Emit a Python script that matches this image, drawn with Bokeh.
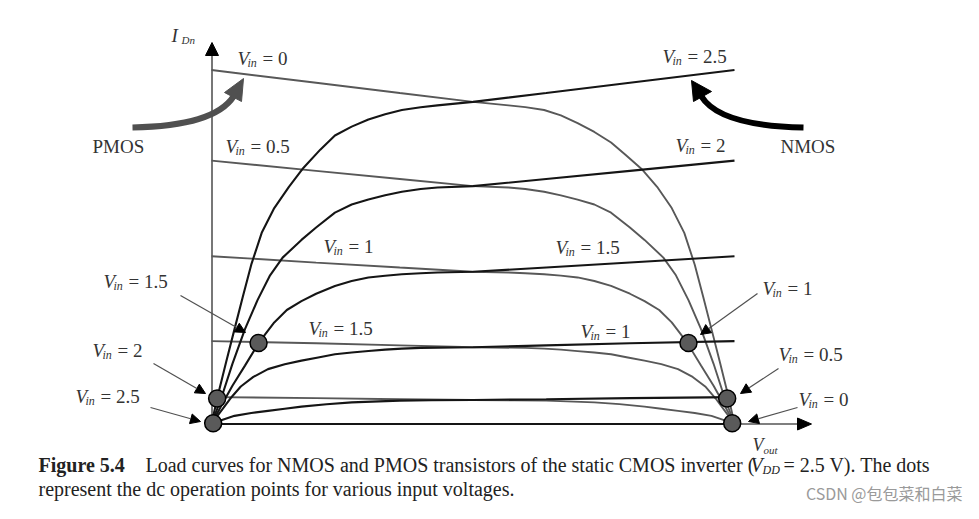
from bokeh.plotting import figure
from bokeh.models import Range1d, Arrow, NormalHead, ColumnDataSource
from bokeh.core.properties import value
from bokeh.embed import file_html
from bokeh.resources import INLINE

# ---------------- data ----------------
# Vout in volts, drain current normalised to I(Vin=2.5, Vout=2.5) = 1
vin_levels = [2.5, 2.0, 1.5, 1.0, 0.5, 0.0]

# NMOS load curves (black)
n25_v = [0, 0.03, 0.07, 0.11, 0.15, 0.19, 0.24, 0.30, 0.37, 0.44, 0.52, 0.59, 0.67, 0.75, 0.83, 0.91, 1.0, 1.08, 1.25, 1.6, 2.0, 2.5]
n25_i = [0, 0.08, 0.175, 0.268, 0.36, 0.45, 0.54, 0.61, 0.67, 0.724, 0.775, 0.815, 0.84, 0.86, 0.875, 0.887, 0.895, 0.90, 0.91, 0.935, 0.964, 1.0]
n20_v = [0, 0.05, 0.10, 0.16, 0.22, 0.28, 0.34, 0.43, 0.50, 0.59, 0.67, 0.75, 0.83, 0.91, 1.0, 1.08, 1.25, 1.6, 2.0, 2.5]
n20_i = [0, 0.079, 0.17, 0.268, 0.35, 0.42, 0.47, 0.52, 0.555, 0.597, 0.62, 0.634, 0.646, 0.656, 0.664, 0.668, 0.672, 0.692, 0.715, 0.744]
n15_v = [0, 0.05, 0.10, 0.16, 0.229, 0.30, 0.36, 0.43, 0.50, 0.59, 0.67, 0.75, 0.83, 0.91, 1.0, 1.08, 1.25, 1.6, 2.0, 2.5]
n15_i = [0, 0.055, 0.108, 0.165, 0.232, 0.287, 0.322, 0.347, 0.368, 0.39, 0.404, 0.414, 0.419, 0.423, 0.426, 0.428, 0.43, 0.442, 0.456, 0.474]
n10_v = [0, 0.04, 0.09, 0.14, 0.20, 0.27, 0.35, 0.43, 0.51, 0.59, 0.67, 0.75, 0.83, 0.91, 1.0, 1.25, 1.6, 2.0, 2.5]
n10_i = [0, 0.032, 0.072, 0.106, 0.133, 0.155, 0.169, 0.179, 0.188, 0.197, 0.202, 0.206, 0.210, 0.213, 0.215, 0.217, 0.222, 0.228, 0.234]
n05_v = [0, 0.05, 0.11, 0.19, 0.27, 0.35, 0.43, 0.55, 0.67, 0.8, 0.9, 1.05, 1.25, 1.6, 2.0, 2.5]
n05_i = [0, 0.011, 0.023, 0.031, 0.037, 0.043, 0.049, 0.056, 0.061, 0.064, 0.066, 0.067, 0.068, 0.070, 0.073, 0.076]
n00_v = [0, 2.5]
n00_i = [0, 0]

# PMOS load curves (grey)
p00_v = [0, 0.5, 0.9, 1.25, 1.42, 1.5, 1.59, 1.67, 1.75, 1.83, 1.91, 1.98, 2.06, 2.13, 2.20, 2.26, 2.31, 2.35, 2.39, 2.43, 2.47, 2.5]
p00_i = [1.0, 0.964, 0.935, 0.91, 0.90, 0.895, 0.887, 0.872, 0.85, 0.825, 0.795, 0.76, 0.718, 0.67, 0.61, 0.54, 0.45, 0.36, 0.268, 0.175, 0.08, 0]
p05_v = [0, 0.5, 0.9, 1.25, 1.42, 1.5, 1.59, 1.67, 1.75, 1.83, 1.91, 2.0, 2.07, 2.16, 2.22, 2.28, 2.34, 2.40, 2.45, 2.5]
p05_i = [0.744, 0.715, 0.692, 0.672, 0.668, 0.664, 0.656, 0.646, 0.634, 0.62, 0.597, 0.555, 0.52, 0.47, 0.42, 0.35, 0.268, 0.17, 0.079, 0]
p10_v = [0, 0.5, 0.9, 1.25, 1.42, 1.5, 1.59, 1.67, 1.75, 1.83, 1.91, 2.0, 2.07, 2.14, 2.2, 2.271, 2.34, 2.4, 2.45, 2.5]
p10_i = [0.474, 0.456, 0.442, 0.43, 0.428, 0.426, 0.423, 0.419, 0.414, 0.404, 0.39, 0.368, 0.347, 0.322, 0.287, 0.232, 0.165, 0.108, 0.055, 0]
p15_v = [0, 0.5, 0.9, 1.25, 1.5, 1.59, 1.67, 1.75, 1.83, 1.91, 1.99, 2.07, 2.15, 2.23, 2.3, 2.36, 2.41, 2.46, 2.5]
p15_i = [0.234, 0.228, 0.222, 0.217, 0.215, 0.213, 0.210, 0.206, 0.202, 0.197, 0.188, 0.179, 0.169, 0.155, 0.133, 0.106, 0.072, 0.032, 0]
p20_v = [0, 0.5, 0.9, 1.25, 1.45, 1.6, 1.7, 1.83, 1.95, 2.07, 2.15, 2.23, 2.31, 2.39, 2.45, 2.5]
p20_i = [0.076, 0.073, 0.070, 0.068, 0.067, 0.066, 0.064, 0.061, 0.056, 0.049, 0.043, 0.037, 0.031, 0.023, 0.011, 0]
p25_v = [0, 2.5]
p25_i = [0, 0]

# dc operating points
op_vin = [2.5, 2.0, 1.5, 1.0, 0.5, 0.0]
op_vout = [0.008, 0.027, 0.225, 2.28, 2.465, 2.489]
op_i = [0.002, 0.072, 0.229, 0.229, 0.072, 0.002]

# ---------------- layout helpers (reference pixel -> data) ----------------
W, H = 963, 503
X0, PXV = 211.0, 209.2     # pixel of Vout = 0, pixels per volt
Y0, PXI = 423.5, 354.0     # pixel of I = 0, pixels per unit current
TDY = 7                    # text baseline correction in pixels


def rx(X):
    return (X - X0) / PXV


def ry(Y):
    return (Y0 - Y) / PXI


def ty(Y):
    return ry(Y - TDY)


p = figure(width=W, height=H, output_backend="svg", toolbar_location=None,
           x_range=Range1d(rx(0), rx(W)), y_range=Range1d(ry(H), ry(0)),
           x_axis_type=None, y_axis_type=None, min_border=0)
p.grid.visible = False
p.outline_line_color = None
p.background_fill_color = "white"
p.border_fill_color = "white"

SERIF = value("Liberation Serif")
GREY = "#555555"
BLACK = "#151515"

# axes with arrows
p.segment(x0=[rx(211.5)], y0=[0], x1=[rx(211.5)], y1=[ry(52)], line_color=GREY, line_width=1.6)
p.segment(x0=[0], y0=[0], x1=[rx(800)], y1=[0], line_color=GREY, line_width=1.6)
p.patch([rx(205), rx(211.5), rx(218)], [ry(55), ry(42), ry(55)], fill_color="black", line_color="black")
p.patch([rx(797), rx(811), rx(797)], [ry(417.5), ry(423.5), ry(429.5)], fill_color="black", line_color="black")

# PMOS curves
for xs, ys in [(p00_v, p00_i), (p05_v, p05_i), (p10_v, p10_i), (p15_v, p15_i), (p20_v, p20_i), (p25_v, p25_i)]:
    p.line(xs, ys, line_color="#585858", line_width=1.9)
# NMOS curves
for xs, ys in [(n25_v, n25_i), (n20_v, n20_i), (n15_v, n15_i), (n10_v, n10_i), (n05_v, n05_i), (n00_v, n00_i)]:
    p.line(xs, ys, line_color=BLACK, line_width=2.1)

# big curved arrows
p.bezier(x0=[rx(132)], y0=[ry(127)], x1=[rx(233)], y1=[ry(96)],
         cx0=[rx(185)], cy0=[ry(126)], cx1=[rx(220)], cy1=[ry(116)],
         line_color="#505050", line_width=6)
p.patch([rx(243), rx(224), rx(241)], [ry(78), ry(92), ry(101)], fill_color="#505050", line_color="#505050")
p.bezier(x0=[rx(803)], y0=[ry(127)], x1=[rx(701)], y1=[ry(96)],
         cx0=[rx(750)], cy0=[ry(126)], cx1=[rx(714)], cy1=[ry(117)],
         line_color="black", line_width=6)
p.patch([rx(691), rx(693), rx(711)], [ry(80), ry(101), ry(91)], fill_color="black", line_color="black")

# pointer arrows from labels
pointers = [((180, 295), (245, 332)), ((153, 363), (205, 393)), ((150, 407), (200, 421)),
            ((757, 293), (700, 334)), ((778, 368), (740, 393)), ((797, 407), (748, 421))]
for (xa, ya), (xb, yb) in pointers:
    p.add_layout(Arrow(end=NormalHead(size=10, fill_color="black", line_color="black"),
                       x_start=rx(xa), y_start=ry(ya), x_end=rx(xb), y_end=ry(yb),
                       line_color="#505050", line_width=1.2))

# operating points
p.scatter(op_vout, op_i, size=17, fill_color="#5a5a5a", line_color="black", line_width=1.5)

# Vin labels: (left X of V, baseline Y, value)
labels = [(237, 65, "0"), (225, 153, "0.5"), (662, 63, "2.5"), (675, 152, "2"),
          (323, 253, "1"), (555, 254, "1.5"), (308, 335, "1.5"), (580, 338, "1"),
          (103, 288, "1.5"), (92, 357, "2"), (75, 403, "2.5"),
          (762, 295, "1"), (778, 361, "0.5"), (798, 406, "0")]
LC = "#333333"
vs = ColumnDataSource(dict(x=[rx(a) for a, b, c in labels], y=[ty(b) for a, b, c in labels], t=["V"] * len(labels)))
ss = ColumnDataSource(dict(x=[rx(a + 10) for a, b, c in labels], y=[ty(b + 4) for a, b, c in labels], t=["in"] * len(labels)))
es = ColumnDataSource(dict(x=[rx(a + 25) for a, b, c in labels], y=[ty(b) for a, b, c in labels], t=["= " + c for a, b, c in labels]))
p.text(x="x", y="y", text="t", source=vs, text_font=SERIF, text_font_size="19px", text_font_style="italic",
       text_color=LC, text_baseline="alphabetic", text_align="left")
p.text(x="x", y="y", text="t", source=ss, text_font=SERIF, text_font_size="12px", text_font_style="italic",
       text_color=LC, text_baseline="alphabetic", text_align="left")
p.text(x="x", y="y", text="t", source=es, text_font=SERIF, text_font_size="19px",
       text_color=LC, text_baseline="alphabetic", text_align="left")

# axis titles
p.text(x=[rx(171)], y=[ty(42)], text=["I"], text_font=SERIF, text_font_size="19px", text_font_style="italic",
       text_color=LC, text_baseline="alphabetic")
p.text(x=[rx(181)], y=[ty(46)], text=["Dn"], text_font=SERIF, text_font_size="11px", text_font_style="italic",
       text_color=LC, text_baseline="alphabetic")
p.text(x=[rx(752)], y=[ty(451)], text=["V"], text_font=SERIF, text_font_size="18px", text_font_style="italic",
       text_color=LC, text_baseline="alphabetic")
p.text(x=[rx(763)], y=[ty(456)], text=["out"], text_font=SERIF, text_font_size="11px", text_font_style="italic",
       text_color=LC, text_baseline="alphabetic")

# PMOS / NMOS
p.text(x=[rx(92), rx(780)], y=[ty(153), ty(153)], text=["PMOS", "NMOS"], text_font=SERIF, text_font_size="19px",
       text_color="#333333", text_baseline="alphabetic")

# caption
CC = "#222222"
FS = "20px"
p.text(x=[rx(38)], y=[ty(471)], text=["Figure 5.4"], text_font=SERIF, text_font_size=FS, text_font_style="bold",
       text_color=CC, text_baseline="alphabetic")
p.text(x=[rx(145)], y=[ty(471)], text=["Load curves for NMOS and PMOS transistors of the static CMOS inverter ("],
       text_font=SERIF, text_font_size=FS, text_color=CC, text_baseline="alphabetic")
p.text(x=[rx(750)], y=[ty(471)], text=["V"], text_font=SERIF, text_font_size=FS, text_font_style="italic",
       text_color=CC, text_baseline="alphabetic")
p.text(x=[rx(762)], y=[ty(476)], text=["DD"], text_font=SERIF, text_font_size="12px", text_font_style="italic",
       text_color=CC, text_baseline="alphabetic")
p.text(x=[rx(783)], y=[ty(471)], text=["= 2.5 V). The dots"], text_font=SERIF, text_font_size=FS,
       text_color=CC, text_baseline="alphabetic")
p.text(x=[rx(38)], y=[ty(495)], text=["represent the dc operation points for various input voltages."],
       text_font=SERIF, text_font_size=FS, text_color=CC, text_baseline="alphabetic")

# watermark
p.text(x=[rx(962)], y=[ty(499)], text=["CSDN @包包菜和白菜"], text_font=value("Noto Sans CJK SC"),
       text_font_size="16px", text_color="#9a9a9a", text_baseline="alphabetic", text_align="right")

open("out.html", "w").write(file_html(p, INLINE))
